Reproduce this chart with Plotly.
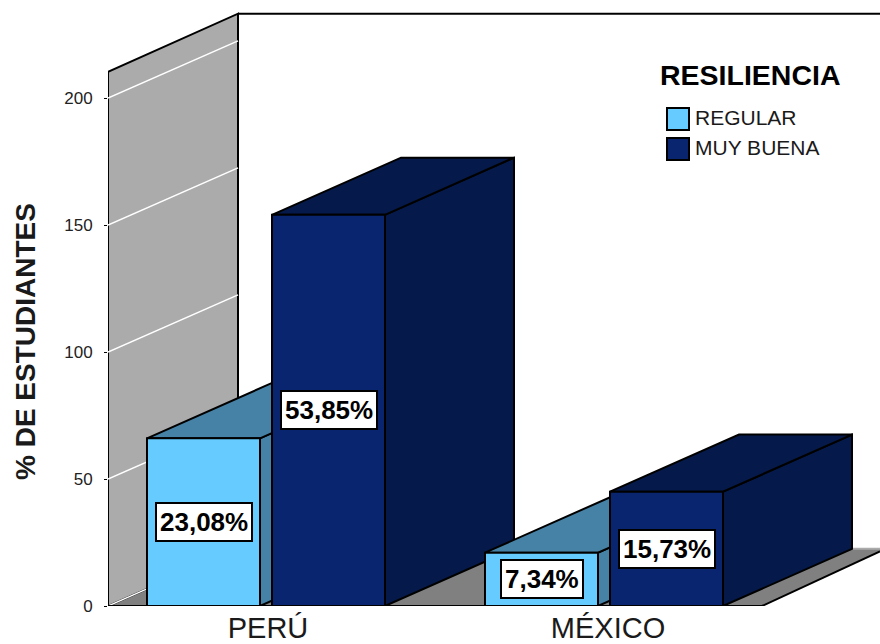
import plotly.graph_objects as go

categories = ["PERÚ", "MÉXICO"]
series_names = ["REGULAR", "MUY BUENA"]
regular = [66, 21]
muy_buena = [154, 45]
regular_labels = ["23,08%", "7,34%"]
muy_buena_labels = ["53,85%", "15,73%"]
y_ticks = [0, 50, 100, 150, 200]

# projection / layout constants
X0, X1 = 108, 880
BASE = 606
PX_PER_UNIT = 2.54
Y_MAX = BASE / PX_PER_UNIT
DX, DY = 129, 22.5
WALL_TOP = 210.3
WALL_DY = 22.9
WALL_W = 130
BAR_W = 113
GAP = 12
CENTERS = [266, 604]

C_REG = ("#66CCFF", "#4682A6")
C_MB = ("#0A2570", "#051A4A")
BLK = "#000000"

fig = go.Figure()


def poly(xs, ys, fill, lw=2, line=BLK):
    fig.add_trace(go.Scatter(
        x=xs + xs[:1], y=ys + ys[:1], mode="lines", fill="toself", fillcolor=fill,
        line=dict(color=line, width=lw), hoverinfo="skip", showlegend=False))


def seg(xs, ys, color, lw=2):
    fig.add_trace(go.Scatter(
        x=xs, y=ys, mode="lines", line=dict(color=color, width=lw),
        hoverinfo="skip", showlegend=False))


# floor and left wall
poly([X0, X0 + WALL_W, X1, X1, 762], [0, DY, DY, 21.5, 0], "#808080", lw=0, line="#808080")
seg([X0 + WALL_W, X1], [DY, DY], "#ABABAB", 2)
poly([X0, X0 + WALL_W, X0 + WALL_W, X0], [0, DY, WALL_TOP + WALL_DY, WALL_TOP], "#ABABAB")
for t in y_ticks:
    seg([X0, X0 + WALL_W], [t, t + DY], "#FFFFFF", 1.5)
seg([X0 + WALL_W, X1], [WALL_TOP + WALL_DY, WALL_TOP + WALL_DY], BLK, 2)
seg([762, X1], [0, 21.5], BLK, 2)
seg([X0, 762], [0, 0], BLK, 2)


def bar3d(left, v, colors, name):
    r = left + BAR_W
    poly([r, r + DX, r + DX, r], [0, DY, v + DY, v], colors[1])
    poly([left, left + DX, r + DX, r], [v, v + DY, v + DY, v], colors[1])
    fig.add_trace(go.Scatter(
        x=[left, r, r, left, left], y=[0, 0, v, v, 0], mode="lines", fill="toself",
        fillcolor=colors[0], line=dict(color=BLK, width=2), name=name, showlegend=False))


annotations = []
for i, c in enumerate(CENTERS):
    l1 = c - GAP / 2 - BAR_W
    l2 = c + GAP / 2
    bar3d(l1, regular[i], C_REG, series_names[0])
    bar3d(l2, muy_buena[i], C_MB, series_names[1])
    for lft, v, txt in ((l1, regular[i], regular_labels[i]), (l2, muy_buena[i], muy_buena_labels[i])):
        annotations.append(dict(
            x=lft + BAR_W / 2 + 0.5, y=v / 2, text=f"<b>{txt}</b>", showarrow=False,
            font=dict(family="Liberation Sans", size=26, color=BLK),
            bgcolor="#FFFFFF", bordercolor=BLK, borderwidth=2, borderpad=3))

annotations.append(dict(
    xref="paper", yref="paper", x=(25 - X0) / (X1 - X0), y=(BASE - 342) / BASE, xanchor="center", yanchor="middle",
    text="<b>% DE ESTUDIANTES</b>",
    textangle=-90, showarrow=False, font=dict(family="Liberation Sans", size=28, color="#1a1a1a")))
annotations.append(dict(
    xref="x", yref="y", x=750, y=(BASE - 75) / PX_PER_UNIT, text="<b>RESILIENCIA</b>",
    showarrow=False, font=dict(family="Liberation Sans", size=28.5, color=BLK)))

shapes = []
for name, col, py in zip(series_names, (C_REG[0], C_MB[0]), (119, 149)):
    v = (BASE - py) / PX_PER_UNIT
    shapes.append(dict(type="rect", xref="x", yref="y", x0=667, x1=689,
                       y0=v - 11 / PX_PER_UNIT, y1=v + 11 / PX_PER_UNIT,
                       fillcolor=col, line=dict(color=BLK, width=2)))
    annotations.append(dict(
        xref="x", yref="y", x=693, y=v + 2 / PX_PER_UNIT, text=name, xanchor="left", showarrow=False,
        font=dict(family="Liberation Sans", size=21, color="#1a1a1a")))

fig.update_layout(
    width=880, height=644,
    margin=dict(l=X0, r=0, t=0, b=644 - BASE, pad=0, autoexpand=False),
    paper_bgcolor="#FFFFFF", plot_bgcolor="#FFFFFF",
    showlegend=False, annotations=annotations, shapes=shapes,
    font=dict(family="Liberation Sans"),
    xaxis=dict(range=[X0, X1], tickvals=[268, 608], ticktext=categories, showgrid=False,
               zeroline=False, showline=False, ticks="", ticklabelstandoff=2, automargin=False,
               tickfont=dict(family="Liberation Sans", size=29, color="#1a1a1a"), fixedrange=True),
    yaxis=dict(range=[0, Y_MAX], tickvals=y_ticks, showgrid=False, zeroline=False, showline=False,
               ticks="outside", ticklen=3, tickwidth=1, tickcolor=BLK, ticklabelstandoff=8, automargin=False,
               tickfont=dict(family="Liberation Sans", size=17, color="#222222"), fixedrange=True),
)

fig.write_html("out.html", config={"displayModeBar": False},
               post_script="document.body.style.margin='0';document.documentElement.style.overflow='hidden';")
